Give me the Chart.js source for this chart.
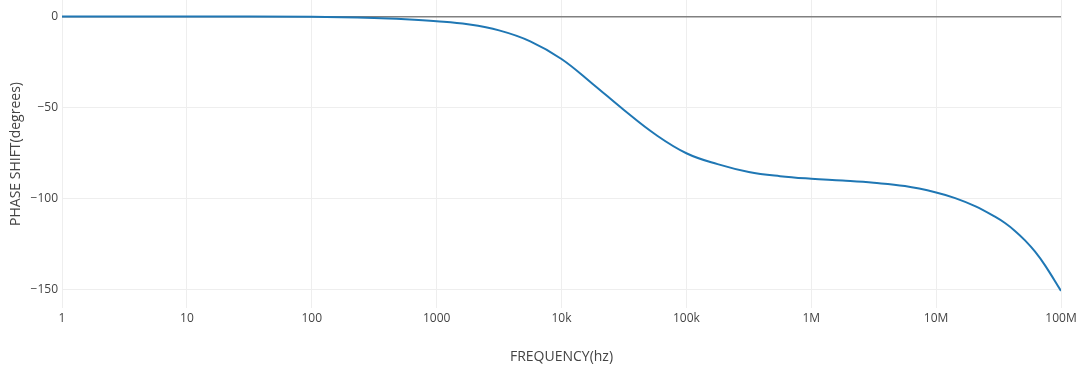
<!DOCTYPE html>
<html>
<head>
<meta charset="utf-8">
<script src="https://cdn.jsdelivr.net/npm/chart.js@4.4.1/dist/chart.umd.min.js"></script>
<style>
  html, body { margin: 0; padding: 0; background: #fff; }
  #wrap { width: 1081px; height: 369px; }
</style>
</head>
<body>
<div id="wrap"><canvas id="grafico"></canvas></div>
<script>
// frequency (hz) and phase (degrees)
const frecuencias = [1, 10, 100, 316, 562, 1000, 1778, 3162, 5623,
  1e4, 1.778e4, 3.162e4, 5.623e4, 1e5, 1.778e5, 3.162e5, 5.623e5,
  1e6, 1.778e6, 3.162e6, 5.623e6, 1e7, 1.42e7, 2.05e7, 2.96e7, 3.56e7,
  4.28e7, 5.15e7, 6.2e7, 7.45e7, 1e8];
const fase = [0, 0, -0.2, -0.8, -1.5, -2.6, -4.3, -7.6, -13.6,
  -23.3, -37, -51.3, -64.6, -75, -81, -85.3, -87.6,
  -89, -90, -91.2, -93, -96.5, -99.6, -104, -109.8, -113.3,
  -117.6, -122.8, -129, -136.5, -150.5];

const ticksX = [1, 10, 100, 1000, 1e4, 1e5, 1e6, 1e7, 1e8];
const etiquetasX = ['1', '10', '100', '1000', '10k', '100k', '1M', '10M', '100M'];
const ticksY = [-150, -100, -50, 0];

Chart.defaults.font.family = '"Open Sans", sans-serif';
Chart.defaults.color = '#444';

new Chart(document.getElementById('grafico'), {
  type: 'line',
  data: {
    datasets: [{
      data: frecuencias.map((f, i) => ({ x: f, y: fase[i] })),
      borderColor: '#1f77b4',
      borderWidth: 2,
      pointRadius: 0,
      tension: 0.4,
      fill: false
    }]
  },
  options: {
    responsive: true,
    maintainAspectRatio: false,
    animation: false,
    layout: { padding: { left: 0, right: 20, top: 0, bottom: 0 } },
    plugins: { legend: { display: false }, tooltip: { enabled: false } },
    scales: {
      x: {
        type: 'logarithmic',
        min: 1,
        max: 1e8,
        afterBuildTicks: s => { s.ticks = ticksX.map(v => ({ value: v })); },
        afterFit: s => { s.height = 61; },
        ticks: {
          font: { size: 12 },
          padding: 3,
          maxRotation: 0,
          autoSkip: false,
          callback: (v) => etiquetasX[ticksX.indexOf(v)] ?? ''
        },
        grid: { color: '#eeeeee', lineWidth: 1, drawTicks: false },
        border: { display: false },
        title: { display: true, text: 'FREQUENCY(hz)', font: { size: 14 }, padding: { bottom: 4 } }
      },
      y: {
        min: -159.9,
        max: 9.05,
        afterBuildTicks: s => { s.ticks = ticksY.map(v => ({ value: v })); },
        afterFit: s => { s.width = 62; s.paddingTop = 0; },
        ticks: {
          font: { size: 12 },
          padding: 4,
          callback: v => v < 0 ? '\u2212' + Math.abs(v) : String(v)
        },
        grid: {
          color: c => c.tick && c.tick.value === 0 ? '#808080' : '#eeeeee',
          lineWidth: c => c.tick && c.tick.value === 0 ? 1.5 : 1,
          drawTicks: false
        },
        border: { display: false },
        title: { display: true, text: 'PHASE SHIFT(degrees)', font: { size: 14 }, padding: { top: 8 } }
      }
    }
  }
});
</script>
</body>
</html>
